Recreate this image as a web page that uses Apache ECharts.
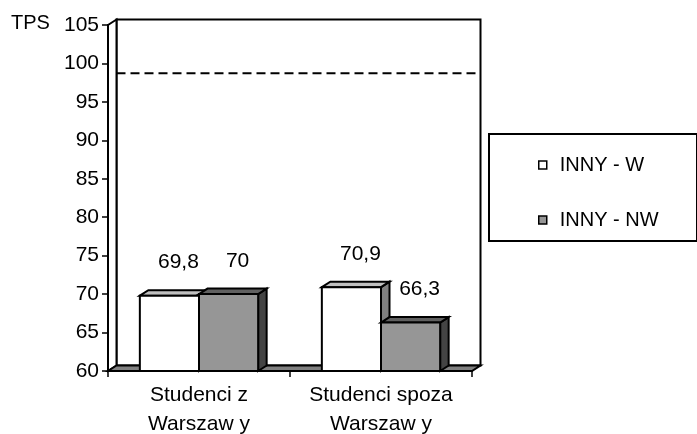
<!DOCTYPE html>
<html>
<head>
<meta charset="utf-8">
<style>html,body{margin:0;padding:0;background:#fff;}#c{width:697px;height:434px;}</style>
<script src="https://cdn.jsdelivr.net/npm/echarts@6/dist/echarts.min.js"></script>
</head>
<body>
<div id="c"></div>
<script>
const categories = ['Studenci z\nWarszaw y', 'Studenci spoza\nWarszaw y'];
const seriesNames = ['INNY - W', 'INNY - NW'];
const valuesW = [69.8, 70.9];
const valuesNW = [70, 66.3];
const valueLabelsW = ['69,8', '70,9'];
const valueLabelsNW = ['70', '66,3'];
const referenceLine = [98];
const yMin = 60, yMax = 105, yStep = 5;

const DX = 8.5, DY = 5.5;
const FONT = 'Liberation Sans';
const FS = 21;
const palettes = [
  {front: '#ffffff', top: '#c0c0c0', side: '#808080'},
  {front: '#969696', top: '#606060', side: '#444444'}
];
const labelSets = [valueLabelsW, valueLabelsNW];

function barRender(sIdx) {
  return function (params, api) {
    const ci = api.value(0), v = api.value(1);
    const top = api.coord([ci, v]);
    const base = api.coord([ci, yMin]);
    const bw = api.size([1, 0])[0] * 0.325;
    const x0 = top[0] + (sIdx === 0 ? -bw : 0);
    const x1 = x0 + bw;
    const yt = top[1], yb = base[1];
    const p = palettes[sIdx];
    const ls = {stroke: '#000', lineWidth: 2, lineJoin: 'miter'};
    return {
      type: 'group',
      children: [
        {type: 'polygon', shape: {points: [[x1, yt], [x1 + DX, yt - DY], [x1 + DX, yb - DY], [x1, yb]]},
         style: Object.assign({fill: p.side}, ls)},
        {type: 'polygon', shape: {points: [[x0, yt], [x0 + DX, yt - DY], [x1 + DX, yt - DY], [x1, yt]]},
         style: Object.assign({fill: p.top}, ls)},
        {type: 'rect', shape: {x: x0, y: yt, width: bw, height: yb - yt},
         style: Object.assign({fill: p.front}, ls)},
        {type: 'text', x: (x0 + x1) / 2 + 9, y: yt - 33,
         style: {text: labelSets[sIdx][params.dataIndex], fill: '#000', font: FS + 'px "' + FONT + '"',
                 align: 'center', verticalAlign: 'middle'}}
      ]
    };
  };
}

function frameRender(params, api) {
  const cs = params.coordSys;
  const x = cs.x, y = cs.y, w = cs.width, h = cs.height;
  const ref = api.coord([0, referenceLine[0]])[1];
  const ls = {stroke: '#000', lineWidth: 2};
  return {
    type: 'group',
    children: [
      {type: 'rect', shape: {x: x + DX, y: y - DY, width: w, height: h},
       style: Object.assign({fill: '#fff'}, ls)},
      {type: 'polygon', shape: {points: [[x, y], [x + DX, y - DY], [x + DX, y + h - DY], [x, y + h]]},
       style: Object.assign({fill: '#fff'}, ls)},
      {type: 'line', shape: {x1: x + DX, y1: ref - DY, x2: x + w + DX, y2: ref - DY},
       style: {stroke: '#000', lineWidth: 2, lineDash: [9, 5]}},
      {type: 'polygon', shape: {points: [[x, y + h], [x + DX, y + h - DY], [x + w + DX, y + h - DY], [x + w, y + h]]},
       style: Object.assign({fill: '#808080'}, ls)}
    ]
  };
}

const chart = echarts.init(document.getElementById('c'), null, {renderer: 'canvas'});
chart.setOption({
  animation: false,
  backgroundColor: '#fff',
  textStyle: {fontFamily: FONT},
  title: {text: 'TPS', left: 11, top: 12, padding: 0,
          textStyle: {fontFamily: FONT, fontSize: 20, fontWeight: 'normal', color: '#000', lineHeight: 22}},
  graphic: [{type: 'rect', left: 488, top: 133, z: 0,
             shape: {width: 208, height: 107}, style: {fill: '#fff', stroke: '#000', lineWidth: 2}}],
  legend: {
    orient: 'vertical', left: 538, top: 155, padding: 0, itemGap: 35,
    itemWidth: 8, itemHeight: 8, z: 5,
    textStyle: {fontFamily: FONT, fontSize: 20, color: '#000', lineHeight: 20, padding: [0, 0, 0, 8]},
    data: [
      {name: seriesNames[0], icon: 'rect', itemStyle: {color: palettes[0].front, borderColor: '#000', borderWidth: 1.5}},
      {name: seriesNames[1], icon: 'rect', itemStyle: {color: palettes[1].front, borderColor: '#000', borderWidth: 1.5}}
    ]
  },
  grid: {left: 108, top: 25, right: 225, bottom: 63, containLabel: false, outerBoundsMode: 'none'},
  xAxis: {
    type: 'category', data: categories,
    axisLine: {show: true, lineStyle: {color: '#000', width: 2}},
    axisTick: {show: true, length: 6, alignWithLabel: false, lineStyle: {color: '#000', width: 1.5}},
    axisLabel: {color: '#000', fontFamily: FONT, fontSize: FS, lineHeight: 29, margin: 10, interval: 0},
    splitLine: {show: false}
  },
  yAxis: {
    type: 'value', min: yMin, max: yMax, interval: yStep,
    axisLine: {show: true, lineStyle: {color: '#000', width: 2}},
    axisTick: {show: true, length: 6, lineStyle: {color: '#000', width: 1.5}},
    axisLabel: {color: '#000', fontFamily: FONT, fontSize: FS, margin: 9},
    splitLine: {show: false}
  },
  series: [
    {type: 'custom', name: 'frame', z: 1, silent: true, renderItem: frameRender,
     encode: {x: 0, y: 1}, data: [[0, yMin]]},
    {type: 'custom', name: seriesNames[0], z: 3, renderItem: barRender(0), encode: {x: 0, y: 1},
     itemStyle: {color: palettes[0].front},
     data: valuesW.map((v, i) => [i, v])},
    {type: 'custom', name: seriesNames[1], z: 3, renderItem: barRender(1), encode: {x: 0, y: 1},
     itemStyle: {color: palettes[1].front},
     data: valuesNW.map((v, i) => [i, v])}
  ]
});
</script>
</body>
</html>
